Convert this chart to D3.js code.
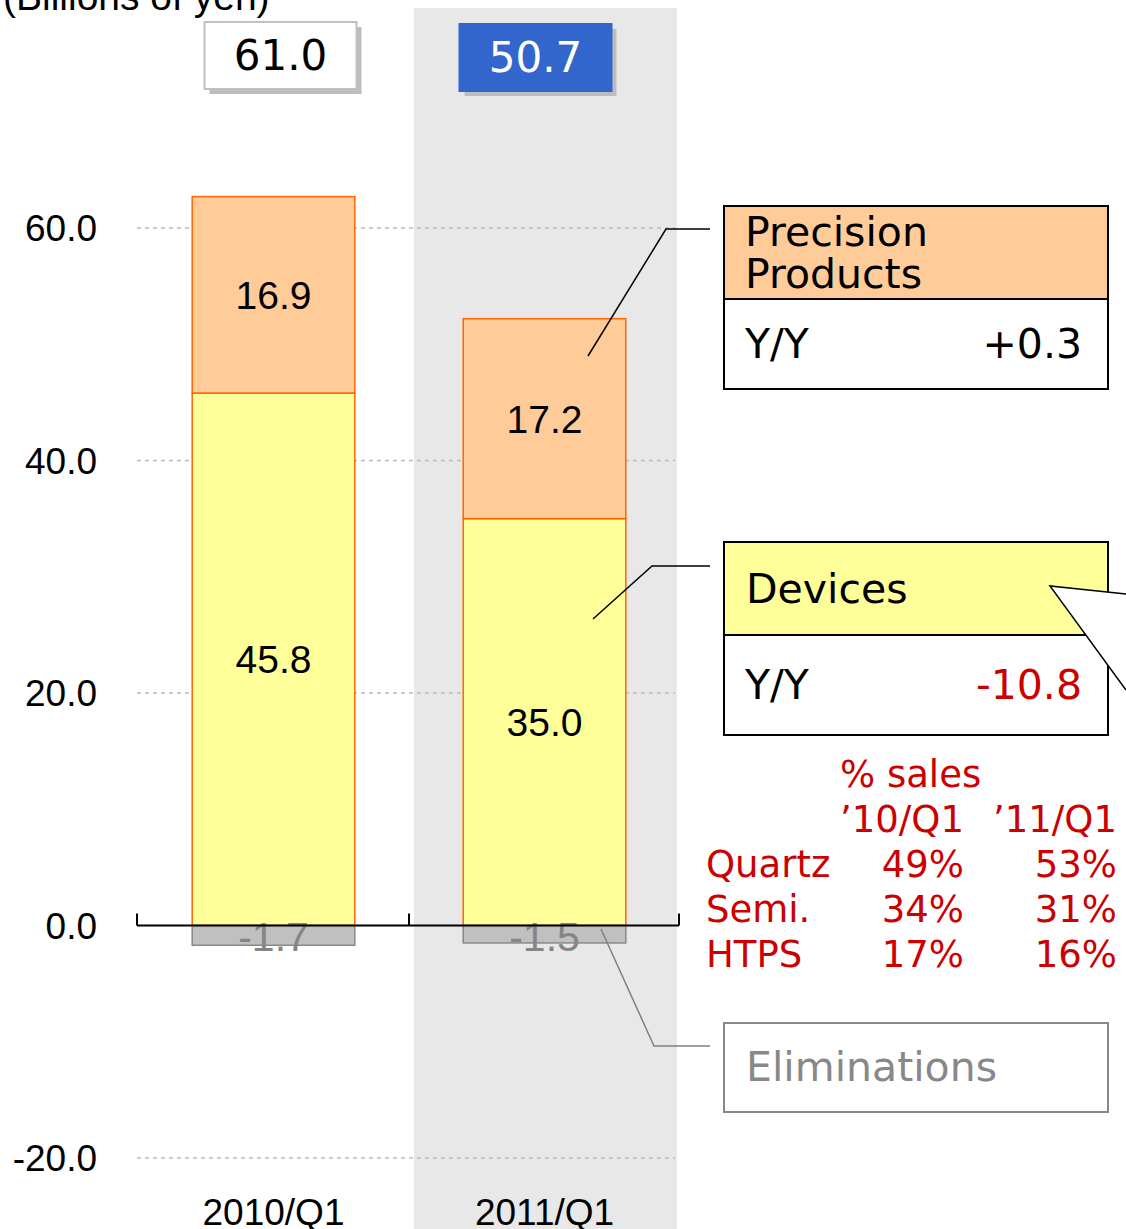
<!DOCTYPE html>
<html><head><meta charset="utf-8">
<script src="https://cdn.jsdelivr.net/npm/d3@7/dist/d3.min.js"></script>
<style>body{margin:0;background:#fff}svg{display:block}</style>
</head><body>
<script>
const categories = ["2010/Q1", "2011/Q1"];
const devices = [45.8, 35.0];
const precision = [16.9, 17.2];
const eliminations = [-1.7, -1.5];
const totals = ["61.0", "50.7"];
const yTicks = [-20, 0, 20, 40, 60];
const salesRows = ["Quartz", "Semi.", "HTPS"];
const salesCols = ["\u201910/Q1", "\u201911/Q1"];
const sales10 = ["49%", "34%", "17%"];
const sales11 = ["53%", "31%", "16%"];
const yyPrecision = "+0.3";
const yyDevices = "-10.8";

const W = 1126, H = 1229;
const svg = d3.select("body").append("svg").attr("width", W).attr("height", H);
const arial = "'Liberation Sans', Arial, sans-serif";
const verd = "'DejaVu Sans', Verdana, sans-serif";

const y = d3.scaleLinear().domain([-20, 60]).range([1158, 228]);
const x = d3.scaleBand().domain(categories).range([137, 679]).padding(0);
const bw = x.bandwidth();
const barW = bw * 0.6;
const bx = c => x(c) + bw * 0.2 + 1;

// highlight background for current quarter
svg.append("rect").attr("x", x(categories[1]) + 6).attr("y", 8)
  .attr("width", bw - 3 - 6 + 1).attr("height", H - 8).attr("fill", "#e8e8e8");

// gridlines
svg.append("g").selectAll("line").data(yTicks.filter(t => t !== 0)).join("line")
  .attr("x1", 137).attr("x2", 675).attr("y1", d => y(d)).attr("y2", d => y(d))
  .attr("stroke", "#bcbcbc").attr("stroke-width", 1.5).attr("stroke-dasharray", "4,4");

// y tick labels
svg.append("g").selectAll("text").data(yTicks).join("text")
  .attr("x", 97).attr("y", d => y(d) + 13).attr("text-anchor", "end")
  .attr("font-family", arial).attr("font-size", 37).attr("fill", "#000")
  .text(d => d3.format(".1f")(d).replace("\u2212", "-"));

// stacked bars
const g = svg.append("g");
categories.forEach((c, i) => {
  g.append("rect").attr("x", bx(c)).attr("width", barW)
    .attr("y", y(devices[i])).attr("height", y(0) - y(devices[i]))
    .attr("fill", "#ffff99").attr("stroke", "#ff6600").attr("stroke-width", 1.5);
  g.append("rect").attr("x", bx(c)).attr("width", barW)
    .attr("y", y(devices[i] + precision[i])).attr("height", y(devices[i]) - y(devices[i] + precision[i]))
    .attr("fill", "#ffcc99").attr("stroke", "#ff6600").attr("stroke-width", 1.5);
  g.append("rect").attr("x", bx(c)).attr("width", barW)
    .attr("y", y(0)).attr("height", y(eliminations[i]) - y(0))
    .attr("fill", "#c0c0c0").attr("stroke", "#888").attr("stroke-width", 1.5);
  const cx = bx(c) + barW / 2;
  g.append("text").attr("x", cx).attr("y", y(devices[i] / 2) + 14).attr("text-anchor", "middle")
    .attr("font-family", arial).attr("font-size", 39).text(devices[i].toFixed(1));
  g.append("text").attr("x", cx).attr("y", y(devices[i] + precision[i] / 2) + 14).attr("text-anchor", "middle")
    .attr("font-family", arial).attr("font-size", 39).text(precision[i].toFixed(1));
  g.append("text").attr("x", cx).attr("y", y(0) + 25).attr("text-anchor", "middle")
    .attr("font-family", arial).attr("font-size", 41).attr("fill", "#858585").text(eliminations[i].toFixed(1));
});

// zero axis
svg.append("line").attr("x1", 137).attr("x2", 679).attr("y1", y(0)).attr("y2", y(0))
  .attr("stroke", "#000").attr("stroke-width", 2);
[137, x(categories[1]) + 1, 679].forEach(t => {
  svg.append("line").attr("x1", t).attr("x2", t).attr("y1", y(0) - 12).attr("y2", y(0))
    .attr("stroke", "#000").attr("stroke-width", 2);
});

// category labels
svg.append("g").selectAll("text").data(categories).join("text")
  .attr("x", d => bx(d) + barW / 2).attr("y", 1225).attr("text-anchor", "middle")
  .attr("font-family", arial).attr("font-size", 37).text(d => d);

// title
svg.append("text").attr("x", 3).attr("y", 10).attr("font-family", arial).attr("font-size", 39)
  .text("(Billions of yen)");

// totals boxes
const boxOff = [7, -9];
categories.forEach((c, i) => {
  const cx = bx(c) + barW / 2 + boxOff[i];
  const top = i === 0 ? 22 : 24;
  svg.append("rect").attr("x", cx - 76 + 5).attr("y", top + 5).attr("width", 152).attr("height", 67)
    .attr("fill", "#bdbdbd");
  svg.append("rect").attr("x", cx - 76).attr("y", top).attr("width", 152).attr("height", 67)
    .attr("fill", i === 0 ? "#fff" : "#3366cc")
    .attr("stroke", i === 0 ? "#c0c0c0" : "#3366cc").attr("stroke-width", 2);
  svg.append("text").attr("x", cx).attr("y", top + 48).attr("text-anchor", "middle")
    .attr("font-family", verd).attr("font-size", 42).attr("fill", i === 0 ? "#000" : "#fff")
    .text(totals[i]);
});

// callout leader lines
svg.append("polyline").attr("points", "588,356 666,229 710,229").attr("fill", "none")
  .attr("stroke", "#000").attr("stroke-width", 1.5);
svg.append("polyline").attr("points", "593,619 652,566 710,566").attr("fill", "none")
  .attr("stroke", "#000").attr("stroke-width", 1.5);
svg.append("polyline").attr("points", "601,929 654,1046 710,1046").attr("fill", "none")
  .attr("stroke", "#808080").attr("stroke-width", 1.5);

// Precision legend box
svg.append("rect").attr("x", 724).attr("y", 206).attr("width", 384).attr("height", 93)
  .attr("fill", "#ffcc99").attr("stroke", "#000").attr("stroke-width", 2);
svg.append("rect").attr("x", 724).attr("y", 299).attr("width", 384).attr("height", 90)
  .attr("fill", "#fff").attr("stroke", "#000").attr("stroke-width", 2);
svg.append("text").attr("x", 745).attr("y", 246).attr("font-family", verd).attr("font-size", 41).text("Precision");
svg.append("text").attr("x", 745).attr("y", 288).attr("font-family", verd).attr("font-size", 41).text("Products");
svg.append("text").attr("x", 745).attr("y", 358).attr("font-family", verd).attr("font-size", 41).text("Y/Y");
svg.append("text").attr("x", 1082).attr("y", 358).attr("text-anchor", "end").attr("font-family", verd)
  .attr("font-size", 41).text(yyPrecision);

// Devices legend box
svg.append("rect").attr("x", 724).attr("y", 542).attr("width", 384).attr("height", 93)
  .attr("fill", "#ffff99").attr("stroke", "#000").attr("stroke-width", 2);
svg.append("rect").attr("x", 724).attr("y", 635).attr("width", 384).attr("height", 100)
  .attr("fill", "#fff").attr("stroke", "#000").attr("stroke-width", 2);
svg.append("text").attr("x", 746).attr("y", 603).attr("font-family", verd).attr("font-size", 41).text("Devices");
svg.append("text").attr("x", 745).attr("y", 699).attr("font-family", verd).attr("font-size", 41).text("Y/Y");
svg.append("text").attr("x", 1082).attr("y", 699).attr("text-anchor", "end").attr("font-family", verd)
  .attr("font-size", 41).attr("fill", "#cc0000").text(yyDevices);
// pointer of an off-chart callout
svg.append("polygon").attr("points", "1050,586 1126,594 1126,690").attr("fill", "#fff");
svg.append("polyline").attr("points", "1126,594 1050,586 1126,690").attr("fill", "none")
  .attr("stroke", "#000").attr("stroke-width", 1.5);

// % sales table
const red = "#cc0000";
const tf = (xx, yy, t, anchor) => svg.append("text").attr("x", xx).attr("y", yy)
  .attr("text-anchor", anchor || "start").attr("font-family", verd).attr("font-size", 37)
  .attr("fill", red).text(t);
tf(840, 787, "% sales");
tf(840, 832, salesCols[0]);
tf(993, 832, salesCols[1]);
salesRows.forEach((r, i) => {
  const yy = 877 + i * 45;
  tf(706, yy, r);
  tf(964, yy, sales10[i], "end");
  tf(1117, yy, sales11[i], "end");
});

// Eliminations box
svg.append("rect").attr("x", 724).attr("y", 1023).attr("width", 384).attr("height", 89)
  .attr("fill", "#fff").attr("stroke", "#888").attr("stroke-width", 2);
svg.append("text").attr("x", 746).attr("y", 1081).attr("font-family", verd).attr("font-size", 41)
  .attr("fill", "#888").text("Eliminations");
</script>
</body></html>
